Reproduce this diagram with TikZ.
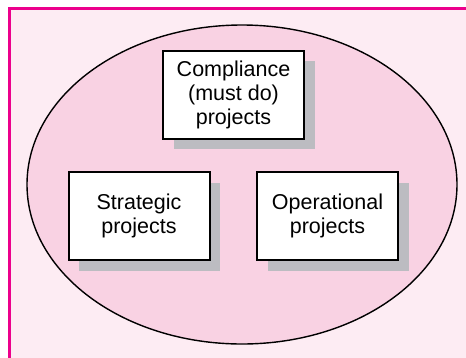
\documentclass[tikz,border=0pt]{standalone}
\usepackage{fontspec}
\setmainfont{Liberation Sans}
\usetikzlibrary{shadows}
\begin{document}
\begin{tikzpicture}[x=1pt,y=-1pt,
    projbox/.style={draw, line width=2pt, fill=white, align=center,
        minimum width=141pt, minimum height=88pt, inner sep=0pt,
        font=\fontsize{21.5}{24}\selectfont,
        drop shadow={shadow xshift=10.5pt, shadow yshift=-10.5pt, opacity=1,
            fill={rgb,255:red,188;green,188;blue,193}}}]
    \useasboundingbox (0,0) rectangle (466,357);
    \fill [ fill={rgb,255:red,253;green,236;blue,243} ] (9,8) rectangle (480,370);
    \draw [ line width=3pt, draw={rgb,255:red,236;green,0;blue,140} ] (9,8) rectangle (480,370);
    \draw [ line width=1.4pt, fill={rgb,255:red,249;green,210;blue,227} ] (242,184.5) ellipse [x radius=215, y radius=159.5];
    \node [projbox] (compliance) at (233.5,94.5) {Compliance\\(must do)\\projects};
    \node [projbox] (strategic) at (139,216) {Strategic\\projects};
    \node [projbox] (operational) at (327.5,216) {Operational\\projects};
\end{tikzpicture}
\end{document}
